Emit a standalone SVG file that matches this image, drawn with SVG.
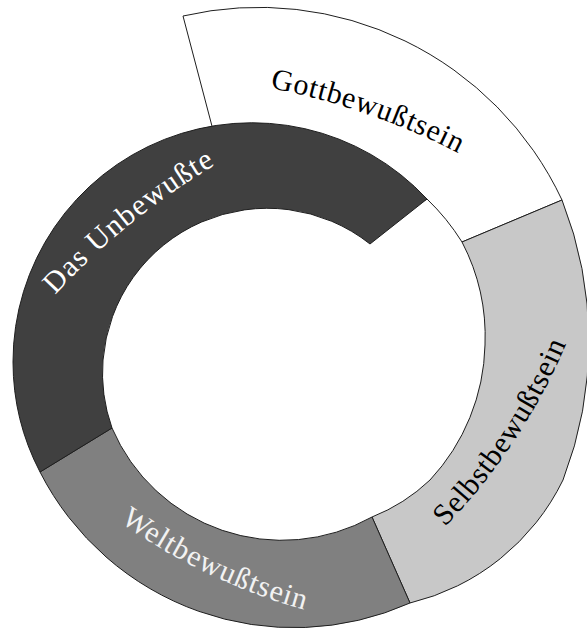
<svg xmlns="http://www.w3.org/2000/svg" width="587" height="631" viewBox="0 0 587 631">
<style>
.seg{stroke:#1e1e1e;stroke-width:1;stroke-linejoin:miter}
.lbl{font-family:"Liberation Serif","DejaVu Serif",serif;font-size:30px}
</style>
<defs>
<path id="pGott" d="M 270,88 A 700 700 0 0 1 458,153"/>
<path id="pDas" d="M 55,295 A 700 700 0 0 1 215,165"/>
<path id="pWelt" d="M 120,522 A 600 600 0 0 0 305,610"/>
<path id="pSelbst" d="M 445,527 A 600 600 0 0 0 567,342"/>
</defs>
<rect x="0" y="0" width="587" height="631" fill="#ffffff"/>
<g id="gott">
<path class="seg" fill="#ffffff" d="M 562,200 A 335 335 0 0 0 183,16 L 213,130 L 222,150 A 210 210 0 0 1 400,214 L 427,199 A 222 222 0 0 1 462,242 Z"/>
</g>
<g id="selbst">
<path class="seg" fill="#c8c8c8" d="M 410,603 A 230 230 0 0 0 563,480 A 385 385 0 0 0 562,200 L 462,242 A 205 205 0 0 1 485,345 A 205 205 0 0 1 430,480 A 180 180 0 0 1 372,517 Z"/>
</g>
<g id="welt">
<path class="seg" fill="#808080" d="M 40,472 A 285 285 0 0 0 410,603 L 372,517 A 185 185 0 0 1 112,428 Z"/>
</g>
<g id="unbewusste">
<path class="seg" fill="#404040" d="M 427,199 A 239 239 0 0 0 13,362 A 239 239 0 0 0 40,472 L 112,428 A 165 165 0 0 1 103,360 A 165 165 0 0 1 370,244 Z"/>
</g>
<g id="labels">
<text class="lbl" fill="#000000"><textPath href="#pGott" textLength="200" lengthAdjust="spacing">Gottbewußtsein</textPath></text>
<text class="lbl" fill="#ffffff"><textPath href="#pDas" textLength="207" lengthAdjust="spacing">Das Unbewußte</textPath></text>
<text class="lbl" fill="#f2f2f2"><textPath href="#pWelt" textLength="205" lengthAdjust="spacing">Weltbewußtsein</textPath></text>
<text class="lbl" fill="#000000"><textPath href="#pSelbst" textLength="221" lengthAdjust="spacing">Selbstbewußtsein</textPath></text>
</g>
</svg>
